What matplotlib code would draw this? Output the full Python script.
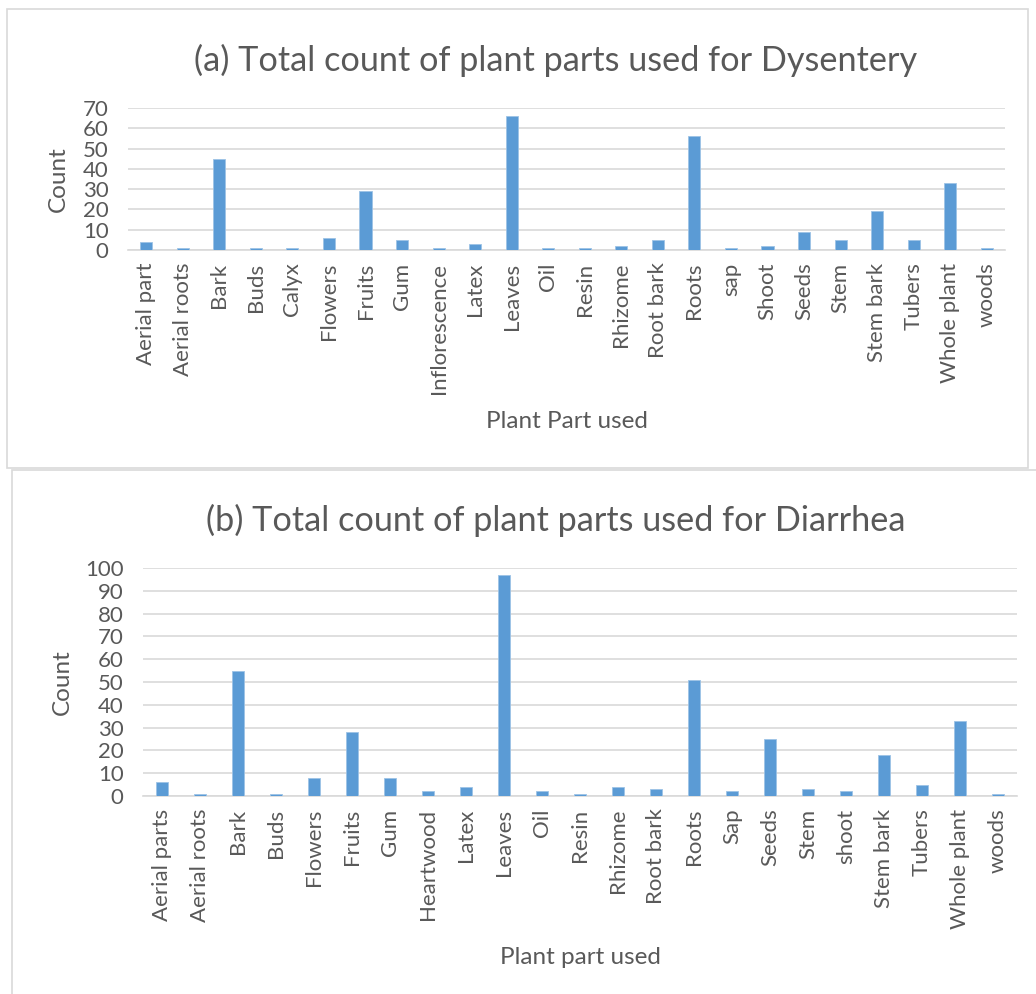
import matplotlib
matplotlib.use("Agg")
import matplotlib.pyplot as plt
from matplotlib.patches import Rectangle

plt.rcParams['font.family'] = ['Lato', 'DejaVu Sans']

# (a) Dysentery
parts_a = ["Aerial part", "Aerial roots", "Bark", "Buds", "Calyx", "Flowers", "Fruits", "Gum",
           "Inflorescence", "Latex", "Leaves", "Oil", "Resin", "Rhizome", "Root bark", "Roots",
           "sap", "Shoot", "Seeds", "Stem", "Stem bark", "Tubers", "Whole plant", "woods"]
counts_a = [4, 1, 45, 1, 1, 6, 29, 5, 1, 3, 66, 1, 1, 2, 5, 56, 1, 2, 9, 5, 19, 5, 33, 1]

# (b) Diarrhea
parts_b = ["Aerial parts", "Aerial roots", "Bark", "Buds", "Flowers", "Fruits", "Gum", "Heartwood",
           "Latex", "Leaves", "Oil", "Resin", "Rhizome", "Root bark", "Roots", "Sap", "Seeds",
           "Stem", "shoot", "Stem bark", "Tubers", "Whole plant", "woods"]
counts_b = [6, 1, 55, 1, 8, 28, 8, 2, 4, 97, 2, 1, 4, 3, 51, 2, 25, 3, 2, 18, 5, 33, 1]

BAR = "#5B9BD5"
TXT = "#595959"
GRID = "#D9D9D9"
W, H = 1036, 994

fig = plt.figure(figsize=(W / 100, H / 100), dpi=100)


def px(x0, y0, x1, y1):
    # pixel box (top-left origin) -> figure fraction rect
    return [x0 / W, 1 - y1 / H, (x1 - x0) / W, (y1 - y0) / H]


# panel frames
fig.patches.append(Rectangle((7 / W, 1 - 468 / H), (1028 - 7) / W, (468 - 9) / H,
                             transform=fig.transFigure, fill=False, ec=GRID, lw=1.2))
fig.patches.append(Rectangle((12 / W, 1 - 1000 / H), (1040 - 12) / W, (1000 - 470) / H,
                             transform=fig.transFigure, fill=False, ec=GRID, lw=1.2))


def draw(rect, names, vals, ymax, step, width, title, xlabel, title_y, ylab_x, xlab_y):
    ax = fig.add_axes(rect)
    x = range(len(names))
    ax.bar(x, vals, width=width, color=BAR, edgecolor="#9DC3E6", lw=0.6, zorder=3)
    ax.set_xlim(-0.5, len(names) - 0.5)
    ax.set_ylim(0, ymax)
    ax.set_yticks(range(0, ymax + 1, step))
    ax.yaxis.grid(True, color=GRID, lw=1.2, zorder=0)
    ax.set_xticks(list(x))
    ax.set_xticklabels(names, rotation=90, fontsize=16, color=TXT)
    ax.tick_params(axis="y", labelsize=16, labelcolor=TXT, length=0, pad=14)
    ax.tick_params(axis="x", length=0, pad=9)
    for s in ["top", "right", "left"]:
        ax.spines[s].set_visible(False)
    ax.spines["bottom"].set_color(GRID)
    ax.spines["bottom"].set_linewidth(1.2)
    bb = ax.get_position()
    fig.text(0.536, 1 - title_y / H, title, ha="center", va="center", fontsize=24.7, color=TXT)
    fig.text(ylab_x / W, (bb.y0 + bb.y1) / 2, "Count", rotation=90, ha="center", va="center",
             fontsize=17.5, color=TXT)
    fig.text((bb.x0 + bb.x1) / 2, 1 - xlab_y / H, xlabel, ha="center", va="center",
             fontsize=17.5, color=TXT)


draw(px(128, 108, 1005, 250), parts_a, counts_a, 70, 10, 0.33,
     "(a) Total count of plant parts used for Dysentery", "Plant Part used", 60, 58, 422)
draw(px(143, 568, 1017, 796), parts_b, counts_b, 100, 10, 0.31,
     "(b) Total count of plant parts used for Diarrhea", "Plant part used", 520, 62, 957)

fig.savefig("out.png", dpi=100, facecolor="white")
